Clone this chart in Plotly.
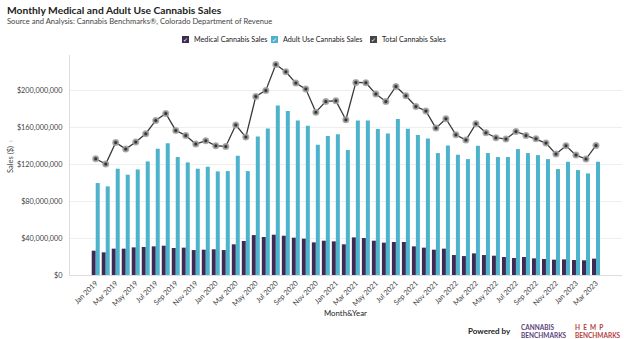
import plotly.graph_objects as go

W, H = 624, 339
L, R, T, B = 70, 2, 55, 64

months = ["Jan", "Feb", "Mar", "Apr", "May", "Jun", "Jul", "Aug", "Sep", "Oct", "Nov", "Dec"]
categories = [f"{m} {y}" for y in (2019, 2020, 2021, 2022) for m in months] + ["Jan 2023", "Feb 2023", "Mar 2023"]

medical = [26.3, 24.5, 28.5, 28.5, 29.9, 30.3, 31.0, 31.7, 29.2, 29.6, 27.0, 27.4,
           27.8, 27.0, 33.2, 36.8, 43.2, 41.1, 43.6, 42.5, 40.4, 39.3, 35.3, 37.1,
           36.4, 33.2, 40.7, 40.0, 37.1, 35.0, 35.7, 35.7, 31.0, 29.6, 27.4, 28.5,
           21.6, 20.5, 23.4, 21.6, 20.9, 19.5, 18.4, 19.5, 18.0, 17.3, 16.6, 16.9,
           16.2, 15.9, 17.7]
adult = [99.5, 95.9, 115.0, 108.5, 114.2, 122.9, 136.6, 142.4, 127.6, 121.8, 115.0, 117.1,
         112.1, 112.4, 129.0, 112.4, 149.8, 158.6, 183.4, 177.3, 167.2, 161.5, 140.9, 150.3,
         152.4, 135.2, 167.2, 167.2, 157.9, 153.2, 168.7, 158.2, 151.4, 147.8, 131.9, 140.2,
         130.1, 125.4, 139.8, 131.9, 127.6, 127.6, 136.2, 131.9, 129.7, 125.4, 114.6, 122.5,
         113.5, 109.9, 122.5]
total = [125.8, 120.0, 143.4, 136.2, 143.8, 152.8, 167.2, 174.8, 156.4, 151.0, 141.6, 145.2,
         139.8, 139.1, 162.2, 149.2, 193.1, 199.7, 227.8, 219.8, 207.6, 201.1, 176.2, 187.8,
         188.5, 168.0, 208.3, 208.0, 195.7, 187.8, 204.0, 193.9, 182.4, 177.4, 158.9, 169.0,
         151.7, 146.0, 163.6, 153.9, 148.5, 147.0, 155.3, 151.0, 147.4, 142.7, 130.8, 139.8,
         129.7, 125.4, 140.2]
y_ticks = [0, 40, 80, 120, 160, 200]
y_tick_labels = ["$0", "$40,000,000", "$80,000,000", "$120,000,000", "$160,000,000", "$200,000,000"]
x_tick_labels = categories[::2]
series_names = ["Medical Cannabis Sales", "Adult Use Cannabis Sales", "Total Cannabis Sales"]

MED_C = "#3d2b56"
ADU_C = "#4db3cc"
TOT_C = "#3a3a3a"
FONT = "Lato"

M = 1_000_000
fig = go.Figure()
fig.add_trace(go.Bar(x=categories, y=[v * M for v in medical], name=series_names[0],
                     marker=dict(color=MED_C, line=dict(width=0)), showlegend=False))
fig.add_trace(go.Bar(x=categories, y=[v * M for v in adult], name=series_names[1],
                     marker=dict(color=ADU_C, line=dict(width=0)), showlegend=False))
fig.add_trace(go.Scatter(x=categories, y=[v * M for v in total], name=series_names[2],
                         mode="lines+markers", line=dict(color=TOT_C, width=1.3),
                         marker=dict(color="#333333", size=5, line=dict(color="rgba(160,160,160,0.85)", width=2)),
                         showlegend=False))


def px(x):
    return (x - L) / (W - L - R)


def py(y):
    return 1 - (y - T) / (H - T - B)


ann = [
    dict(x=px(5), y=py(9.5), text="<b>Monthly Medical and Adult Use Cannabis Sales</b>",
         font=dict(size=10.3, color="#222222", family=FONT)),
    dict(x=px(5), y=py(20.5), text="Source and Analysis: Cannabis Benchmarks®, Colorado Department of Revenue",
         font=dict(size=7.6, color="#444444", family=FONT)),
    dict(x=px(466), y=py(331), text="<b>Powered by</b>", font=dict(size=8, color="#222222", family=FONT)),
    dict(x=px(519), y=py(331), text="<b>CANNABIS<br>BENCHMARKS</b>",
         font=dict(size=6.5, color="#5b3f7a", family=FONT)),
    dict(x=px(573), y=py(331), text="<b>H  E  M  P<br>BENCHMARKS</b>",
         font=dict(size=6.5, color="#b5413e", family=FONT)),
    dict(x=px(10), y=py(157), text="Sales ($)  <span style='color:#aaaaaa'>›</span>", textangle=-90,
         font=dict(size=7.5, color="#444444", family=FONT), xanchor="center"),
    dict(x=px(345), y=py(313), text="Month&Year", xanchor="center",
         font=dict(size=7.8, color="#222222", family=FONT)),
]

shapes = []
legend_pos = [(182, MED_C), (271, ADU_C), (370, "#444444")]
for name, (x0, c) in zip(series_names, legend_pos):
    shapes.append(dict(type="rect", xref="paper", yref="paper", x0=px(x0), x1=px(x0 + 7),
                       y0=py(43), y1=py(36), fillcolor=c, line=dict(width=0), layer="above"))
    ann.append(dict(x=px(x0 + 3.5), y=py(39.5), text="✓", xanchor="center",
                    font=dict(size=6, color="white", family="DejaVu Sans")))
    ann.append(dict(x=px(x0 + 9.5), y=py(39.5), text=name,
                    font=dict(size=7.2, color="#222222", family=FONT)))

annotations = []
for a in ann:
    a.setdefault("xanchor", "left")
    annotations.append(dict(xref="paper", yref="paper", showarrow=False, yanchor="middle", align="left", **a))

fig.update_layout(
    width=W, height=H,
    margin=dict(l=L, r=R, t=T, b=B),
    paper_bgcolor="white", plot_bgcolor="white",
    font=dict(family=FONT, size=8, color="#444444"),
    barmode="group", bargap=0.2, bargroupgap=0.0,
    showlegend=False,
    annotations=annotations,
    shapes=shapes,
)
fig.update_xaxes(type="category", range=[-2.57, 52.6], tickmode="array", tickvals=x_tick_labels,
                 ticktext=x_tick_labels, tickangle=-45, tickfont=dict(size=7.3, color="#444444"),
                 showline=True, linecolor="#dddddd", linewidth=1, showgrid=False, ticks="")
fig.update_yaxes(range=[0, 238 * M], tickmode="array", tickvals=[v * M for v in y_ticks],
                 ticktext=y_tick_labels, tickfont=dict(size=7.3, color="#444444"),
                 showgrid=True, gridcolor="#eeeeee", gridwidth=1, zeroline=False,
                 showline=True, linecolor="#dddddd", linewidth=1, ticks="", ticklabelstandoff=5)

fig.write_html("out.html")
